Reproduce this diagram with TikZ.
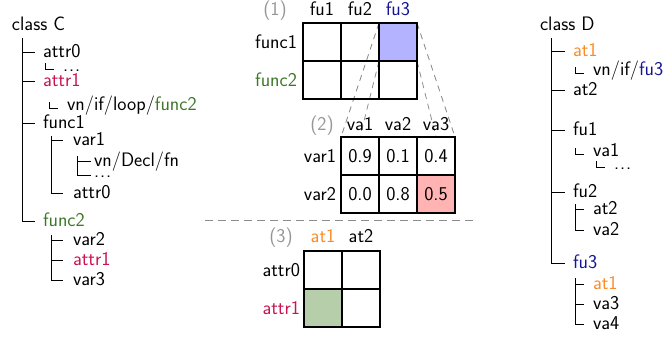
\documentclass[tikz,border=0pt]{standalone}
\usepackage{fontspec}
\usetikzlibrary{backgrounds,calc}
\definecolor{crim}{RGB}{200,20,80}
\definecolor{grn}{RGB}{60,120,40}
\definecolor{org}{RGB}{250,140,40}
\definecolor{nvy}{RGB}{20,20,150}
\definecolor{lav}{RGB}{179,179,255}
\definecolor{pnk}{RGB}{255,179,179}
\definecolor{sage}{RGB}{183,206,170}
\definecolor{lbl}{RGB}{150,150,150}
\definecolor{dsh}{RGB}{140,140,140}
\newcommand\br[4][5]{\draw[tline] (#2) |- ($(#3.base west)+(-#4,-#1)$);}
\newcommand\cornermark[1]{\draw[tline] ($(#1.base west)+(-18,-8)$) |- ($(#1.base west)+(-9,-2)$);}
\newcommand\dd{.\kern0.05em.\kern0.05em.}
\begin{document}
\begin{tikzpicture}[x=1pt,y=-1pt,
  font=\sffamily\fontsize{19.5}{22}\selectfont,
  every node/.style={inner sep=0pt, outer sep=0pt},
  tt/.style={anchor=base west},
  cl/.style={anchor=base},
  rl/.style={anchor=base east},
  cell/.style={draw=black, line width=1.1pt, minimum size=38pt, anchor=north west},
  wcell/.style={cell, fill=white},
  tline/.style={line width=1pt, black},
  zline/.style={dsh, line width=0.8pt, dash pattern=on 6pt off 5pt},
  sep/.style={dsh, line width=0.8pt, dash pattern=on 8pt off 5pt},
]
\useasboundingbox (0,0) rectangle (670,338);

% ---------- left tree: class C ----------
\node[tt] (classC) at (12,30) {class C};
\coordinate (tC) at (22,38);
\node[tt] (c-attr0) at (43,57) {attr0};
\node[tt] (c-dots1) at (63,71) {\dd};
\node[tt,text=crim] (c-attr1) at (43,86) {attr1};
\node[tt] (c-vn1) at (67,110) {vn/if/loop/\textcolor{grn}{func2}};
\node[tt] (c-func1) at (43,128) {func1};
\coordinate (tF1) at (51,136);
\node[tt] (c-var1) at (73,145) {var1};
\coordinate (tV1) at (77,156);
\node[tt] (c-vn2) at (94,166) {vn/Decl/fn};
\node[tt] (c-dots2) at (94,177) {\dd};
\node[tt] (c-attr0b) at (73,198) {attr0};
\node[tt,text=grn] (c-func2) at (43,226) {func2};
\coordinate (tF2) at (51,235);
\node[tt] (c-var2) at (73,245) {var2};
\node[tt,text=crim] (c-attr1b) at (73,265) {attr1};
\node[tt] (c-var3) at (73,285) {var3};

\br{tC}{c-attr0}{8}
\br{tC}{c-attr1}{8}
\br{tC}{c-func1}{8}
\br{tC}{c-func2}{8}
\cornermark{c-dots1}
\cornermark{c-vn1}
\br{tF1}{c-var1}{10}
\br{tF1}{c-attr0b}{10}
\br{tV1}{c-vn2}{3}
\br[2]{tV1}{c-dots2}{3}
\br{tF2}{c-var2}{10}
\br{tF2}{c-attr1b}{10}
\br{tF2}{c-var3}{10}

% ---------- right tree: class D ----------
\node[tt] (classD) at (540,30) {class D};
\coordinate (tD) at (551,38);
\node[tt,text=org] (d-at1) at (573,56) {at1};
\node[tt] (d-vn3) at (593,75) {vn/if/\textcolor{nvy}{fu3}};
\node[tt] (d-at2) at (573,95) {at2};
\node[tt] (d-fu1) at (573,135) {fu1};
\node[tt] (d-va1) at (593,156) {va1};
\node[tt] (d-dots3) at (614,169) {\dd};
\node[tt] (d-fu2) at (573,197) {fu2};
\coordinate (tG2) at (575,204);
\node[tt] (d-at2b) at (593,214) {at2};
\node[tt] (d-va2) at (593,235) {va2};
\node[tt,text=nvy] (d-fu3) at (573,268) {fu3};
\coordinate (tG3) at (575,278);
\node[tt,text=org] (d-at1b) at (593,289) {at1};
\node[tt] (d-va3) at (593,309) {va3};
\node[tt] (d-va4) at (593,329) {va4};

\br{tD}{d-at1}{8}
\br{tD}{d-at2}{8}
\br{tD}{d-fu1}{8}
\br{tD}{d-fu2}{8}
\br{tD}{d-fu3}{8}
\cornermark{d-vn3}
\cornermark{d-va1}
\cornermark{d-dots3}
\br{tG2}{d-at2b}{9}
\br{tG2}{d-va2}{9}
\br{tG3}{d-at1b}{9}
\br{tG3}{d-va3}{9}
\br{tG3}{d-va4}{9}

% ---------- matrix (1) ----------
\node[cell] (a11) at (303,23) {};
\node[cell] (a12) at (341,23) {};
\node[cell,fill=lav] (a13) at (379,23) {};
\node[cell] (a21) at (303,61) {};
\node[cell] (a22) at (341,61) {};
\node[cell] (a23) at (379,61) {};
\node[cl,text=lbl] (l1) at (275,15) {(1)};
\node[cl] (h-fu1) at (322,15) {fu1};
\node[cl] (h-fu2) at (360,15) {fu2};
\node[cl,text=nvy] (h-fu3) at (398,15) {fu3};
\node[rl] (r-func1) at (297,48) {func1};
\node[rl,text=grn] (r-func2) at (297,86) {func2};

% ---------- matrix (2) ----------
\node[wcell] (b11) at (341,137) {0.9};
\node[wcell] (b12) at (379,137) {0.1};
\node[wcell] (b13) at (417,137) {0.4};
\node[wcell] (b21) at (341,175) {0.0};
\node[wcell] (b22) at (379,175) {0.8};
\node[cell,fill=pnk] (b23) at (417,175) {0.5};
\node[cl,text=lbl] (l2) at (322,130) {(2)};
\node[cl] (h-va1) at (360,130) {va1};
\node[cl] (h-va2) at (398,130) {va2};
\node[cl] (h-va3) at (436,130) {va3};
\node[rl] (r-var1) at (336,162) {var1};
\node[rl] (r-var2) at (336,200) {var2};

% ---------- separator ----------
\coordinate (sepL) at (205,220);
\coordinate (sepR) at (478,220);
\draw[sep] (sepL) -- (sepR);

% ---------- matrix (3) ----------
\node[cell] (c11) at (304,251) {};
\node[cell] (c12) at (342,251) {};
\node[cell,fill=sage] (c21) at (304,289) {};
\node[cell] (c22) at (342,289) {};
\node[cl,text=lbl] (l3) at (281,242) {(3)};
\node[cl,text=org] (h-at1) at (323,242) {at1};
\node[cl] (h-at2) at (361,242) {at2};
\node[rl] (r-attr0) at (300,276) {attr0};
\node[rl,text=crim] (r-attr1) at (300,314) {attr1};

% ---------- zoom lines ----------
\begin{scope}[on background layer]
\draw[zline] (a13.north west) -- (b11.north west);
\draw[zline] (a13.south west) -- (b21.south west);
\draw[zline] (a13.north east) -- (b13.north east);
\draw[zline] (a13.south east) -- (b23.south east);
\end{scope}
\end{tikzpicture}
\end{document}
